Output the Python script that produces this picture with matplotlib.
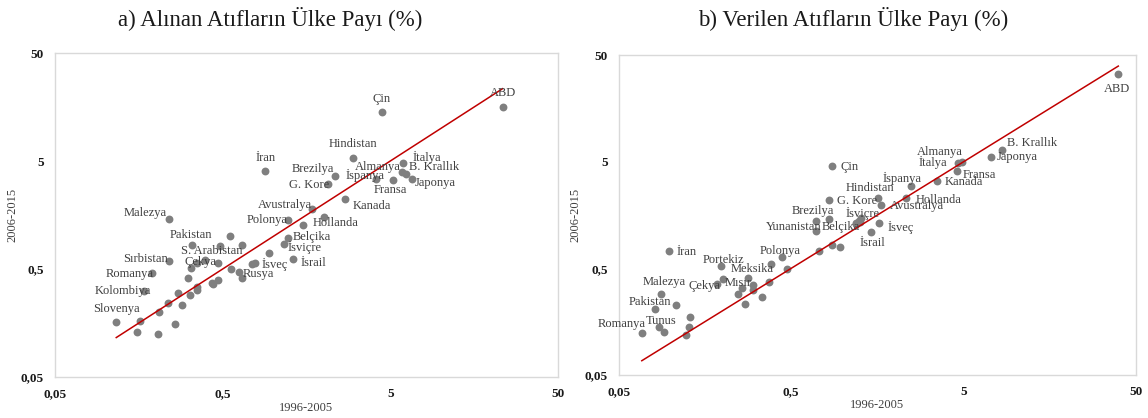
import matplotlib.pyplot as plt
from matplotlib.ticker import FixedLocator, FixedFormatter, NullLocator

plt.rcParams['font.family'] = ['Liberation Serif', 'DejaVu Serif']

# axis ticks shared by both panels
ticks = [0.05, 0.5, 5, 50]
tick_labels = ['0,05', '0,5', '5', '50']

# a) received citations: share 1996-2005 (x) vs 2006-2015 (y); '' = unlabeled point
names_a = ['ABD', 'Çin', 'Hindistan', 'İran', 'Brezilya', 'G. Kore', 'İspanya', 'Almanya',
           'İtalya', 'B. Krallık', 'Japonya', 'Fransa', 'Kanada', 'Avustralya', 'Polonya',
           'Hollanda', 'Belçika', 'İsviçre', 'İsrail', 'İsveç', 'Rusya', 'Malezya', 'Pakistan',
           'S. Arabistan', 'Sırbistan', 'Çekya', 'Romanya', 'Kolombiya', 'Slovenya',
           '', '', '', '', '', '', '', '', '', '', '', '', '', '', '', '', '', '', '', '', '',
           '', '', '']
x_a = [23.4, 4.46, 2.98, 0.90, 2.33, 2.14, 4.10, 5.87,
       5.97, 6.25, 6.73, 5.18, 2.67, 1.71, 1.23,
       1.50, 1.22, 1.17, 1.32, 0.78, 0.63, 0.24, 0.33,
       0.39, 0.24, 0.325, 0.19, 0.17, 0.116,
       2.0, 0.65, 0.55, 0.48, 0.94, 0.65, 0.56, 0.75, 0.47, 0.35, 0.31, 0.47, 0.43, 0.44,
       0.35, 0.35, 0.32, 0.27, 0.235, 0.285, 0.21, 0.16, 0.26, 0.155, 0.205]
y_a = [15.8, 14.3, 5.3, 4.07, 3.6, 3.04, 3.39, 3.95,
       4.82, 3.79, 3.43, 3.31, 2.24, 1.80, 1.41,
       1.29, 0.96, 0.86, 0.62, 0.57, 0.47, 1.44, 0.83,
       0.61, 0.59, 0.51, 0.46, 0.31, 0.16,
       1.51, 0.83, 1.02, 0.82, 0.70, 0.415, 0.50, 0.56, 0.57, 0.57, 0.41, 0.40, 0.37, 0.36,
       0.34, 0.32, 0.29, 0.30, 0.24, 0.23, 0.20, 0.165, 0.155, 0.13, 0.124]

# b) given citations
names_b = ['ABD', 'B. Krallık', 'Japonya', 'Almanya', 'İtalya', 'Fransa', 'Kanada', 'İspanya',
           'Hindistan', 'Hollanda', 'Avustralya', 'G. Kore', 'Çin', 'Brezilya', 'İsviçre',
           'Yunanistan', 'Belçika', 'İsveç', 'İsrail', 'Polonya', 'İran', 'Portekiz', 'Meksika',
           'Mısır', 'Çekya', 'Malezya', 'Pakistan', 'Tunus', 'Romanya',
           '', '', '', '', '', '', '', '', '', '', '', '', '', '', '', '', '', '', '', '', '']
x_b = [39.5, 8.36, 7.24, 4.87, 4.64, 4.56, 3.51, 2.47,
       1.60, 2.33, 1.65, 0.83, 0.865, 0.70, 1.23,
       0.695, 1.19, 1.62, 1.46, 0.44, 0.098, 0.195, 0.28,
       0.20, 0.185, 0.088, 0.081, 0.086, 0.068,
       0.83, 1.27, 0.86, 0.955, 0.73, 0.38, 0.47, 0.30, 0.26, 0.30, 0.37, 0.245, 0.34, 0.27,
       0.107, 0.13, 0.128, 0.091, 0.122, 1.19, 1.25]
y_b = [33.3, 6.47, 5.49, 5.01, 4.83, 4.13, 3.32, 2.94,
       2.28, 2.30, 1.97, 2.18, 4.52, 1.40, 1.39,
       1.11, 1.29, 1.33, 1.09, 0.635, 0.72, 0.53, 0.41,
       0.40, 0.36, 0.29, 0.206, 0.14, 0.125,
       1.44, 1.48, 0.83, 0.79, 0.73, 0.545, 0.49, 0.35, 0.33, 0.31, 0.37, 0.285, 0.27, 0.23,
       0.225, 0.174, 0.142, 0.126, 0.119, 1.33, 1.36]

# label placement (pixel offset from the point, horizontal alignment)
offs_a = {'ABD': (0, 14, 'center'), 'Çin': (0, 13, 'center'), 'Hindistan': (0, 14, 'center'),
          'İran': (0, 13, 'center'), 'Brezilya': (-1, 7, 'right'), 'G. Kore': (1, -1, 'right'),
          'İspanya': (-11, 4, 'center'), 'Almanya': (-1, 5, 'right'), 'İtalya': (9, 5, 'left'),
          'B. Krallık': (3, 7, 'left'), 'Japonya': (3, -4, 'left'), 'Fransa': (-2, -10, 'center'),
          'Kanada': (8, -7, 'left'), 'Avustralya': (0, 4, 'right'), 'Polonya': (0, 0, 'right'),
          'Hollanda': (10, 2, 'left'), 'Belçika': (5, 1, 'left'), 'İsviçre': (3, -4, 'left'),
          'İsrail': (7, -4, 'left'), 'İsveç': (7, -2, 'left'), 'Rusya': (3, -2, 'left'),
          'Malezya': (-2, 6, 'right'), 'Pakistan': (-1, 10, 'center'),
          'S. Arabistan': (7, 9, 'center'), 'Sırbistan': (-1, 2, 'right'), 'Çekya': (9, 6, 'center'),
          'Romanya': (2, -1, 'right'), 'Kolombiya': (7, 0, 'right'), 'Slovenya': (0, 13, 'center')}
offs_b = {'ABD': (-1, -15, 'center'), 'B. Krallık': (5, 7, 'left'), 'Japonya': (5, 0, 'left'),
          'Almanya': (1, 10, 'right'), 'İtalya': (-11, 1, 'right'), 'Fransa': (6, -4, 'left'),
          'Kanada': (8, -1, 'left'), 'İspanya': (-9, 8, 'center'), 'Hindistan': (-8, 10, 'center'),
          'Hollanda': (9, -2, 'left'), 'Avustralya': (9, -1, 'left'), 'G. Kore': (8, -1, 'left'),
          'Çin': (8, -1, 'left'), 'Brezilya': (-3, 10, 'center'), 'İsviçre': (4, 8, 'center'),
          'Yunanistan': (6, 4, 'right'), 'Belçika': (4, -3, 'right'), 'İsveç': (8, -4, 'left'),
          'İsrail': (1, -11, 'center'), 'Polonya': (-1, 6, 'center'), 'İran': (7, -1, 'left'),
          'Portekiz': (3, 6, 'center'), 'Meksika': (4, 9, 'center'), 'Mısır': (2, -4, 'left'),
          'Çekya': (4, -2, 'right'), 'Malezya': (3, 12, 'center'), 'Pakistan': (-5, 7, 'center'),
          'Tunus': (2, 6, 'center'), 'Romanya': (4, 9, 'right')}


def draw(ax, names, xs, ys, offs):
    ax.scatter(xs, ys, s=32, color='#7f7f7f', linewidths=0, zorder=3)
    lo, hi = min(xs), max(xs)
    ax.plot([lo, hi], [lo, hi], color='#c00000', lw=1.1, zorder=4)
    for n, x, y in zip(names, xs, ys):
        if not n:
            continue
        dx, dy, ha = offs[n]
        ax.annotate(n, (x, y), xytext=(dx, dy), textcoords='offset pixels',
                    ha=ha, va='center', fontsize=9, color='#404040', zorder=5)
    ax.set_xscale('log')
    ax.set_yscale('log')
    ax.set_xlim(0.05, 50)
    ax.set_ylim(0.05, 50)
    for axis in (ax.xaxis, ax.yaxis):
        axis.set_major_locator(FixedLocator(ticks))
        axis.set_major_formatter(FixedFormatter(tick_labels))
        axis.set_minor_locator(NullLocator())
    ax.tick_params(length=0, labelsize=9.5, colors='#1a1a1a', pad=8)
    for lab in ax.get_xticklabels() + ax.get_yticklabels():
        lab.set_fontweight('bold')
    for sp in ax.spines.values():
        sp.set_color('#d9d9d9')
        sp.set_linewidth(1)
    ax.set_xlabel('1996-2005', fontsize=9, color='#404040', labelpad=1)
    ax.set_ylabel('2006-2015', fontsize=9, color='#404040', labelpad=2)


fig = plt.figure(figsize=(11.48, 4.18), dpi=100)
ax1 = fig.add_axes([0.0479, 0.098, 0.438, 0.775])
ax2 = fig.add_axes([0.539, 0.103, 0.4505, 0.765])
draw(ax1, names_a, x_a, y_a, offs_a)
draw(ax2, names_b, x_b, y_b, offs_b)
fig.text(0.235, 0.955, 'a) Alınan Atıfların Ülke Payı (%)', ha='center', va='center',
         fontsize=16.5, color='#1a1a1a')
fig.text(0.743, 0.955, 'b) Verilen Atıfların Ülke Payı (%)', ha='center', va='center',
         fontsize=16.5, color='#1a1a1a')
fig.savefig('out.png', dpi=100)
